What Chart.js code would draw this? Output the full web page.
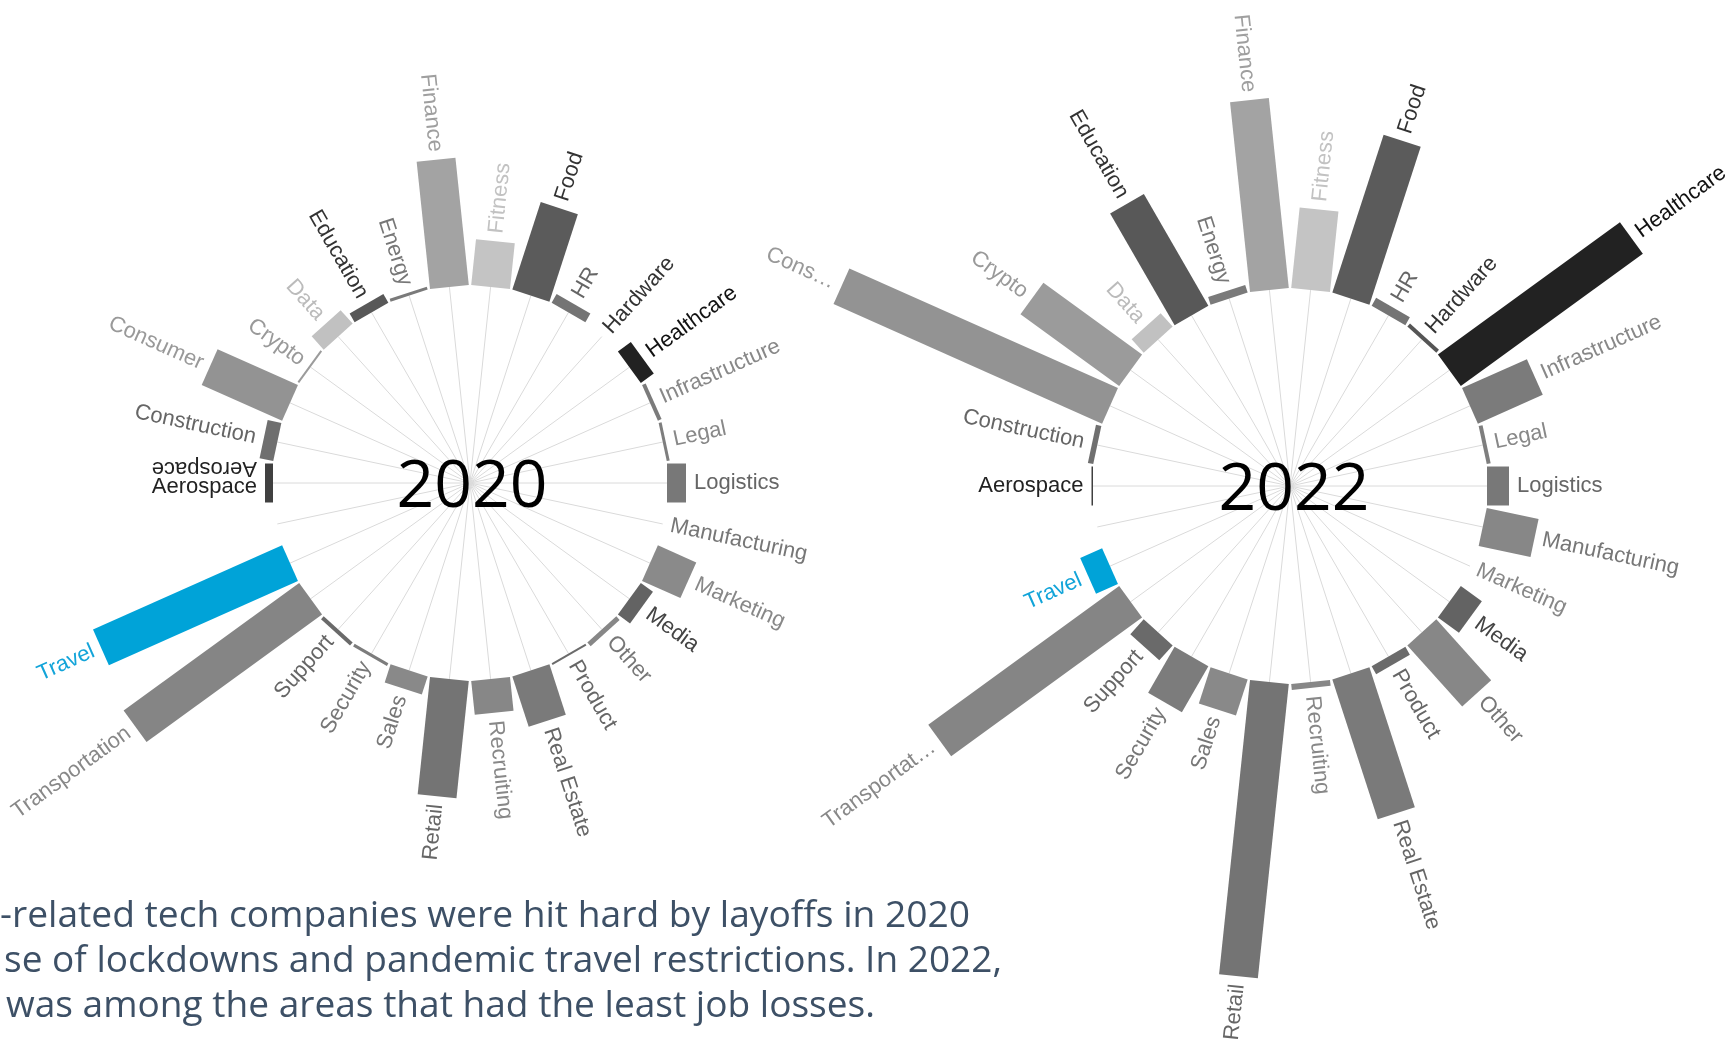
<!DOCTYPE html>
<html>
<head>
<meta charset="utf-8">
<script src="https://cdn.jsdelivr.net/npm/chart.js@4.4.1/dist/chart.umd.min.js"></script>
<style>
  html, body { margin: 0; padding: 0; width: 1736px; height: 1041px; overflow: hidden; background: #ffffff; }
  canvas { position: absolute; }
  #c2020 { left: -90px; top: -77px; }
  #c2022 { left: 730px; top: -74px; }
  #caption { position: absolute; left: 0; top: 0; pointer-events: none; }
</style>
</head>
<body>
<canvas id="c2020" width="1120" height="1120"></canvas>
<canvas id="c2022" width="1120" height="1120"></canvas>
<svg id="caption" width="1736" height="1041" xmlns="http://www.w3.org/2000/svg">
  <g font-family="'Open Sans', 'Noto Sans', sans-serif" font-size="37" fill="#3d5066">
    <text x="0" y="927" textLength="970" lengthAdjust="spacingAndGlyphs">-related tech companies were hit hard by layoffs in 2020</text>
    <text x="4" y="972" textLength="998" lengthAdjust="spacingAndGlyphs">se of lockdowns and pandemic travel restrictions. In 2022,</text>
    <text x="6" y="1017" textLength="869" lengthAdjust="spacingAndGlyphs">was among the areas that had the least job losses.</text>
  </g>
</svg>
<script>
// ---------- data ----------
const categories = ['Aerospace','Construction','Consumer','Crypto','Data','Education','Energy','Finance','Fitness','Food','HR','Hardware','Healthcare','Infrastructure','Legal','Logistics','Manufacturing','Marketing','Media','Other','Product','Real Estate','Recruiting','Retail','Sales','Security','Support','Transportation','Travel'];
const labels2020 = ['Aerospace','Construction','Consumer','Crypto','Data','Education','Energy','Finance','Fitness','Food','HR','Hardware','Healthcare','Infrastructure','Legal','Logistics','Manufacturing','Marketing','Media','Other','Product','Real Estate','Recruiting','Retail','Sales','Security','Support','Transportation','Travel'];
const labels2022 = ['Aerospace','Construction','Cons\u2026','Crypto','Data','Education','Energy','Finance','Fitness','Food','HR','Hardware','Healthcare','Infrastructure','Legal','Logistics','Manufacturing','Marketing','Media','Other','Product','Real Estate','Recruiting','Retail','Sales','Security','Support','Transportat\u2026','Travel'];
const values2020 = [8, 14, 88, 2, 18, 10, 3, 128, 46, 92, 10, 0, 16, 4, 3, 19, 0, 42, 15, 5, 2, 53, 34, 118, 19, 3, 4, 217, 207];
const values2022 = [1.5, 5.5, 294, 122, 18, 129, 8, 191, 81, 166, 9, 4, 225, 71, 4, 22, 53, 0, 26, 82, 9, 147, 6, 296, 38, 53, 20, 236, 24];
const years = ['2020', '2022'];
const mirrored2020 = ['Aerospace'];

// ---------- styles ----------
const barColors = ['#404040','#6f6f6f','#939393','#9b9b9b','#c1c1c1','#585858','#7a7a7a','#a3a3a3','#c4c4c4','#5b5b5b','#747474','#555555','#222222','#7b7b7b','#7e7e7e','#787878','#878787','#8a8a8a','#636363','#878787','#6b6b6b','#7a7a7a','#878787','#747474','#898989','#7c7c7c','#6a6a6a','#858585','#00a3d8'];
const labelColors = ['#222222','#666666','#999999','#999999','#bbbbbb','#333333','#777777','#9f9f9f','#c2c2c2','#333333','#666666','#333333','#111111','#888888','#888888','#666666','#777777','#888888','#444444','#777777','#666666','#666666','#888888','#666666','#777777','#777777','#666666','#888888','#12a4d9'];

const radialBars = {
  id: 'radialBars',
  beforeDatasetsDraw(chart, args, opts) {
    const s = chart.scales.r, ctx = chart.ctx;
    ctx.save();
    ctx.strokeStyle = opts.gridColor;
    ctx.lineWidth = 1;
    for (let i = 0; i < chart.data.labels.length; i++) {
      const p = s.getPointPositionForValue(i, 0);
      ctx.beginPath();
      ctx.moveTo(s.xCenter, s.yCenter);
      ctx.lineTo(p.x, p.y);
      ctx.stroke();
    }
    ctx.restore();
  },
  afterDatasetsDraw(chart, args, opts) {
    const s = chart.scales.r, ctx = chart.ctx;
    const data = chart.data.datasets[0].data;
    const labels = chart.data.labels;
    ctx.save();
    data.forEach((v, i) => {
      if (v === null || v === undefined) return;
      const a = s.getPointPositionForValue(i, 0);
      const b = s.getPointPositionForValue(i, v);
      const ang = a.angle;
      const nx = -Math.sin(ang) * opts.halfWidth, ny = Math.cos(ang) * opts.halfWidth;
      if (v > 0) {
        ctx.fillStyle = opts.barColors[i];
        ctx.beginPath();
        ctx.moveTo(a.x + nx, a.y + ny);
        ctx.lineTo(b.x + nx, b.y + ny);
        ctx.lineTo(b.x - nx, b.y - ny);
        ctx.lineTo(a.x - nx, a.y - ny);
        ctx.closePath();
        ctx.fill();
      }
      const lp = s.getPointPosition(i, s.getDistanceFromCenterForValue(Math.max(v, 0)) + opts.labelPad);
      ctx.save();
      ctx.translate(lp.x, lp.y);
      ctx.font = opts.labelFont;
      ctx.fillStyle = opts.labelColors[i];
      ctx.textBaseline = 'middle';
      if (Math.cos(ang) >= -1e-6) { ctx.rotate(ang); ctx.textAlign = 'left'; }
      else { ctx.rotate(ang + Math.PI); ctx.textAlign = 'right'; }
      ctx.fillText(labels[i], 0, opts.mirrored.includes(labels[i]) ? 4 : 0);
      ctx.restore();
      if (opts.mirrored.includes(labels[i])) {
        ctx.save();
        ctx.translate(lp.x, lp.y);
        ctx.rotate(ang);
        ctx.font = opts.labelFont;
        ctx.fillStyle = opts.labelColors[i];
        ctx.textAlign = 'left';
        ctx.textBaseline = 'middle';
        ctx.fillText(labels[i], 0, 15);
        ctx.restore();
      }
    });
    ctx.font = opts.yearFont;
    ctx.fillStyle = '#000000';
    ctx.textAlign = 'center';
    ctx.textBaseline = 'alphabetic';
    ctx.fillText(opts.year, s.xCenter + opts.yearDx, s.yCenter + 24);
    ctx.restore();
  }
};

function makeChart(id, year, labels, values, mirrored, yearDx) {
  return new Chart(document.getElementById(id), {
    type: 'radar',
    data: {
      labels: labels.concat(['']),
      datasets: [{
        label: year,
        data: values.concat([null]),
        showLine: false,
        pointRadius: 0,
        pointHoverRadius: 0,
        borderWidth: 0,
        borderColor: 'rgba(0,0,0,0)',
        backgroundColor: 'rgba(0,0,0,0)'
      }]
    },
    options: {
      responsive: false,
      animation: false,
      devicePixelRatio: 1,
      events: [],
      layout: { padding: 0 },
      scales: {
        r: {
          min: -197,
          max: 363,
          startAngle: 270,
          ticks: { display: false },
          grid: { display: false },
          angleLines: { display: false },
          pointLabels: { display: false }
        }
      },
      plugins: {
        legend: { display: false },
        tooltip: { enabled: false },
        title: { display: false },
        radialBars: {
          year: year,
          yearDx: yearDx,
          yearFont: '66px "Open Sans"',
          labelFont: '22px "Liberation Sans", Arial, sans-serif',
          labelPad: 8,
          halfWidth: 19.5,
          gridColor: '#dadada',
          barColors: barColors,
          labelColors: labelColors,
          mirrored: mirrored
        }
      }
    },
    plugins: [radialBars]
  });
}

makeChart('c2020', years[0], labels2020, values2020, mirrored2020, 2);
makeChart('c2022', years[1], labels2022, values2022, [], 4);
</script>
</body>
</html>
